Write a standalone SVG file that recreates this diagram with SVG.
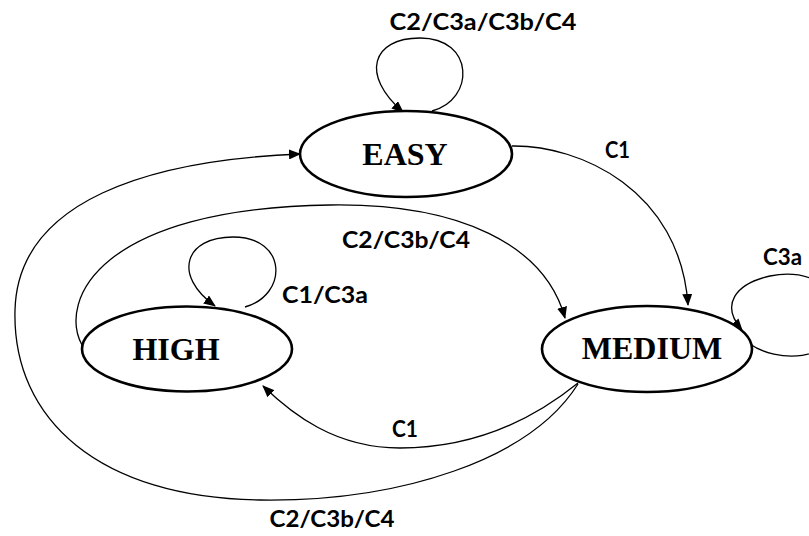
<svg xmlns="http://www.w3.org/2000/svg" width="809" height="536" viewBox="0 0 809 536">
<defs>
<marker id="arr" markerWidth="12" markerHeight="10" refX="11" refY="5" orient="auto" markerUnits="userSpaceOnUse">
<path d="M0,0 L12,5 L0,10 Z" fill="#000"/>
</marker>
<style>
.node{fill:#fff;stroke:#000;stroke-width:2.6}
.nt{font-family:"Liberation Serif","Times New Roman",serif;font-weight:bold;font-size:32px;fill:#000;text-anchor:middle}
.edge{fill:none;stroke:#000;stroke-width:1.3;marker-end:url(#arr)}
.lbl{font-family:Lato,"Open Sans",sans-serif;font-weight:bold;font-size:22px;fill:#000;text-anchor:middle}
</style>
</defs>
<rect width="809" height="536" fill="#fff"/>
<g id="connectors">
<path class="edge" d="M432 111 C475 100,475 38,420 38 C372 38,360 75,403 112"/>
<path class="edge" d="M245 307 C288 295,288 237,233 237 C185 237,172 275,215 306"/>
<path class="edge" d="M750 344 C775 362,835 365,838 318 C840 280,800 270,770 276 C735 284,720 305,742 330"/>
<path class="edge" d="M512 146 C580 145,680 190,688 305"/>
<path class="edge" d="M82 345 C58 300,100 208,330 205 C460 203,545 245,565 318"/>
<path class="edge" d="M578 383 C520 430,460 448,400 448 C335 448,292 414,263 386"/>
<path class="edge" d="M578 384 C530 460,400 502,260 500 C100 498,12 420,15 310 C18 200,150 160,300 154"/>
</g>
<g id="easy">
<ellipse class="node" cx="406" cy="154" rx="106" ry="43"/>
<text class="nt" x="405" y="165">EASY</text>
</g>
<g id="high">
<ellipse class="node" cx="187" cy="349" rx="105" ry="42.5"/>
<text class="nt" x="176" y="360">HIGH</text>
</g>
<g id="medium">
<ellipse class="node" cx="647" cy="349" rx="105" ry="43"/>
<text class="nt" x="652" y="359">MEDIUM</text>
</g>
<g id="labels">
<text class="lbl" x="483" y="30" textLength="187" lengthAdjust="spacingAndGlyphs">C2/C3a/C3b/C4</text>
<text class="lbl" x="617.5" y="158" textLength="25" lengthAdjust="spacingAndGlyphs">C1</text>
<text class="lbl" x="406" y="248" textLength="128" lengthAdjust="spacingAndGlyphs">C2/C3b/C4</text>
<text class="lbl" x="325" y="303" textLength="86" lengthAdjust="spacingAndGlyphs">C1/C3a</text>
<text class="lbl" x="782.5" y="265" textLength="39" lengthAdjust="spacingAndGlyphs">C3a</text>
<text class="lbl" x="405" y="437" textLength="26" lengthAdjust="spacingAndGlyphs">C1</text>
<text class="lbl" x="332" y="527" textLength="125" lengthAdjust="spacingAndGlyphs">C2/C3b/C4</text>
</g>
</svg>
